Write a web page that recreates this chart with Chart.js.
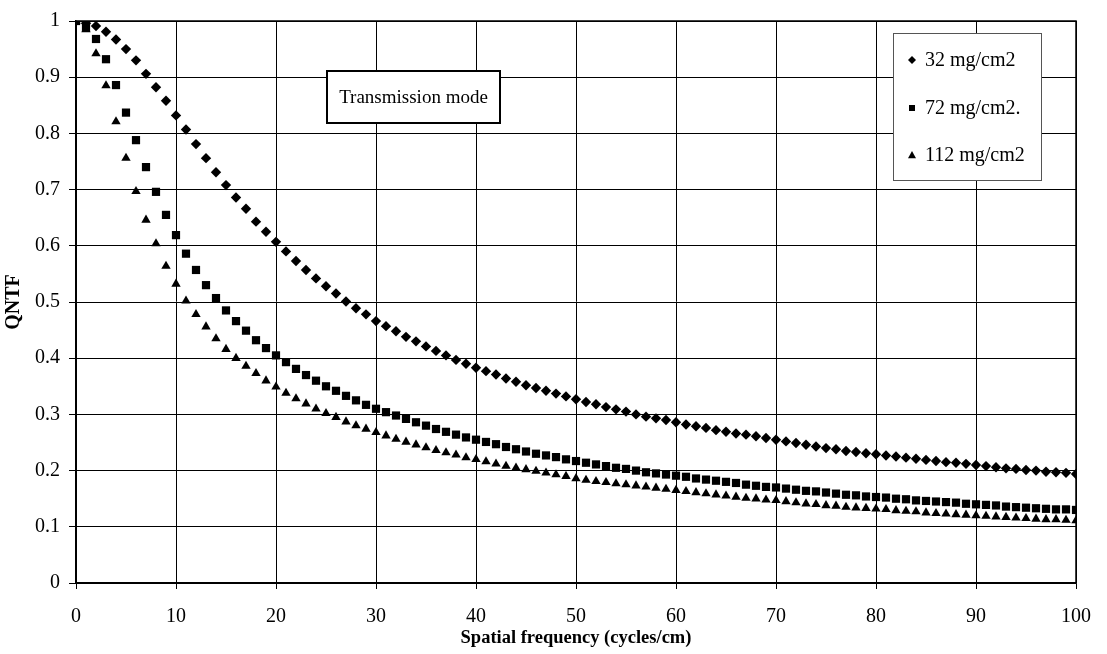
<!DOCTYPE html>
<html>
<head>
<meta charset="utf-8">
<script src="https://cdn.jsdelivr.net/npm/chart.js@4.4.1/dist/chart.umd.min.js"></script>
<style>
  html, body { margin: 0; padding: 0; background: #fff; }
  #wrap { width: 1107px; height: 654px; }
</style>
</head>
<body>
<div id="wrap"><canvas id="chart" width="1107" height="654"></canvas></div>
<script>
const seriesNames = ['32 mg/cm2', '72 mg/cm2.', '112 mg/cm2'];

// spatial frequency, cycles/cm
const freq = [
  0, 1, 2, 3, 4, 5, 6, 7, 8, 9, 10, 11, 12, 13, 14, 15, 16, 17, 18, 19, 20,
  21, 22, 23, 24, 25, 26, 27, 28, 29, 30, 31, 32, 33, 34, 35, 36, 37, 38, 39, 40,
  41, 42, 43, 44, 45, 46, 47, 48, 49, 50, 51, 52, 53, 54, 55, 56, 57, 58, 59, 60,
  61, 62, 63, 64, 65, 66, 67, 68, 69, 70, 71, 72, 73, 74, 75, 76, 77, 78, 79, 80,
  81, 82, 83, 84, 85, 86, 87, 88, 89, 90, 91, 92, 93, 94, 95, 96, 97, 98, 99, 100
];

const qntf32 = [
  1.000, 0.996, 0.991, 0.981, 0.967, 0.950, 0.930, 0.906, 0.882, 0.858, 0.832,
  0.807, 0.781, 0.756, 0.731, 0.708, 0.686, 0.666, 0.643, 0.625, 0.607,
  0.590, 0.573, 0.557, 0.542, 0.528, 0.515, 0.501, 0.489, 0.478, 0.466,
  0.457, 0.448, 0.438, 0.430, 0.421, 0.413, 0.405, 0.397, 0.390, 0.383,
  0.377, 0.371, 0.364, 0.358, 0.352, 0.347, 0.342, 0.337, 0.332, 0.327,
  0.322, 0.318, 0.313, 0.309, 0.305, 0.300, 0.296, 0.293, 0.290, 0.286,
  0.282, 0.279, 0.276, 0.272, 0.269, 0.266, 0.264, 0.261, 0.258, 0.255,
  0.252, 0.249, 0.246, 0.243, 0.240, 0.238, 0.235, 0.233, 0.231, 0.229,
  0.227, 0.225, 0.223, 0.221, 0.219, 0.217, 0.215, 0.214, 0.212, 0.210,
  0.208, 0.206, 0.204, 0.203, 0.201, 0.200, 0.198, 0.197, 0.196, 0.194
];

const qntf72 = [
  1.000, 0.988, 0.968, 0.932, 0.886, 0.837, 0.788, 0.740, 0.696, 0.655, 0.619,
  0.586, 0.557, 0.530, 0.507, 0.485, 0.466, 0.449, 0.432, 0.418, 0.405,
  0.393, 0.381, 0.370, 0.360, 0.350, 0.342, 0.333, 0.325, 0.317, 0.310,
  0.304, 0.298, 0.292, 0.286, 0.280, 0.274, 0.269, 0.264, 0.259, 0.255,
  0.251, 0.247, 0.242, 0.238, 0.234, 0.230, 0.227, 0.224, 0.220, 0.217,
  0.214, 0.211, 0.208, 0.205, 0.203, 0.200, 0.197, 0.195, 0.193, 0.191,
  0.189, 0.186, 0.184, 0.182, 0.180, 0.178, 0.175, 0.173, 0.171, 0.170,
  0.168, 0.166, 0.164, 0.163, 0.161, 0.159, 0.157, 0.156, 0.154, 0.153,
  0.152, 0.150, 0.149, 0.147, 0.146, 0.145, 0.144, 0.143, 0.141, 0.140,
  0.139, 0.138, 0.136, 0.135, 0.134, 0.133, 0.132, 0.131, 0.131, 0.130
];

const qntf112 = [
  1.000, 0.985, 0.942, 0.885, 0.821, 0.756, 0.697, 0.646, 0.604, 0.564, 0.532,
  0.502, 0.478, 0.456, 0.435, 0.416, 0.400, 0.386, 0.373, 0.360, 0.349,
  0.338, 0.328, 0.319, 0.310, 0.302, 0.295, 0.287, 0.280, 0.274, 0.268,
  0.262, 0.256, 0.251, 0.246, 0.241, 0.236, 0.232, 0.228, 0.223, 0.220,
  0.216, 0.212, 0.208, 0.205, 0.202, 0.199, 0.196, 0.193, 0.190, 0.186,
  0.183, 0.181, 0.179, 0.177, 0.175, 0.173, 0.171, 0.169, 0.167, 0.165,
  0.163, 0.161, 0.159, 0.157, 0.155, 0.153, 0.151, 0.150, 0.148, 0.147,
  0.145, 0.143, 0.141, 0.140, 0.138, 0.137, 0.135, 0.134, 0.133, 0.132,
  0.131, 0.129, 0.128, 0.127, 0.125, 0.124, 0.123, 0.122, 0.121, 0.120,
  0.119, 0.118, 0.117, 0.116, 0.115, 0.114, 0.113, 0.113, 0.112, 0.111
];

const SERIF = '"Liberation Serif", "Times New Roman", serif';

function toPoints(values) {
  return freq.map((f, i) => ({ x: f, y: values[i] }));
}

function markerPath(ctx, style, x, y, r) {
  ctx.beginPath();
  if (style === 'rectRot') {
    ctx.moveTo(x, y - r);
    ctx.lineTo(x + r, y);
    ctx.lineTo(x, y + r);
    ctx.lineTo(x - r, y);
  } else if (style === 'rect') {
    ctx.rect(x - r, y - r, 2 * r, 2 * r);
  } else {
    ctx.moveTo(x, y - r);
    ctx.lineTo(x + r, y + r * 0.8);
    ctx.lineTo(x - r, y + r * 0.8);
  }
  ctx.closePath();
  ctx.fill();
}

const decorPlugin = {
  id: 'decor',
  beforeDraw(chart) {
    const { ctx, width, height } = chart;
    ctx.save();
    ctx.fillStyle = '#fff';
    ctx.fillRect(0, 0, width, height);
    ctx.restore();
  },
  afterDraw(chart) {
    const { ctx, chartArea } = chart;
    ctx.save();

    // plot frame
    ctx.strokeStyle = '#000';
    ctx.lineWidth = 1.5;
    ctx.strokeRect(chartArea.left, chartArea.top,
      chartArea.right - chartArea.left, chartArea.bottom - chartArea.top);

    // "Transmission mode" label box
    ctx.fillStyle = '#fff';
    ctx.fillRect(327, 71, 173, 52);
    ctx.lineWidth = 2;
    ctx.strokeRect(327, 71, 173, 52);
    ctx.fillStyle = '#000';
    ctx.font = '19px ' + SERIF;
    ctx.textAlign = 'center';
    ctx.textBaseline = 'middle';
    ctx.fillText('Transmission mode', 413.5, 98);

    // legend box
    ctx.fillStyle = '#fff';
    ctx.fillRect(893, 33, 148, 147);
    ctx.strokeStyle = '#555';
    ctx.lineWidth = 1;
    ctx.strokeRect(893.5, 33.5, 148, 147);
    ctx.font = '20px ' + SERIF;
    ctx.textAlign = 'left';
    ctx.fillStyle = '#000';
    const rows = [60, 108, 155];
    chart.data.datasets.forEach((ds, i) => {
      const r = ds.pointStyle === 'rect' ? 3 : 4;
      markerPath(ctx, ds.pointStyle, 912, rows[i], r);
      ctx.fillText(ds.label, 925, rows[i] + 1);
    });

    ctx.restore();
  }
};

new Chart(document.getElementById('chart'), {
  type: 'scatter',
  data: {
    datasets: [
      {
        label: seriesNames[0],
        data: toPoints(qntf32),
        pointStyle: 'rectRot',
        pointRadius: 5.2,
        backgroundColor: '#000',
        borderWidth: 0,
      },
      {
        label: seriesNames[1],
        data: toPoints(qntf72),
        pointStyle: 'rect',
        pointRadius: 5.8,
        backgroundColor: '#000',
        borderWidth: 0,
      },
      {
        label: seriesNames[2],
        data: toPoints(qntf112),
        pointStyle: 'triangle',
        pointRadius: 5.4,
        backgroundColor: '#000',
        borderWidth: 0,
      },
    ],
  },
  plugins: [decorPlugin],
  options: {
    responsive: false,
    animation: false,
    events: [],
    layout: {
      padding: { top: 14, right: 29, left: 0, bottom: 0 },
    },
    plugins: {
      legend: { display: false },
      tooltip: { enabled: false },
    },
    scales: {
      x: {
        type: 'linear',
        min: 0,
        max: 100,
        afterFit(scale) { scale.height = 71; },
        ticks: {
          stepSize: 10,
          color: '#000',
          padding: 16,
          maxRotation: 0,
          font: { family: SERIF, size: 20 },
        },
        grid: {
          color: '#000',
          lineWidth: 1,
          tickLength: 6,
        },
        border: { color: '#000', width: 1.5 },
        title: {
          display: true,
          text: 'Spatial frequency (cycles/cm)',
          color: '#000',
          font: { family: SERIF, size: 18.5, weight: 'bold' },
          padding: { top: 0, bottom: 5 },
        },
      },
      y: {
        min: 0,
        max: 1,
        afterFit(scale) { scale.width = 76; },
        ticks: {
          stepSize: 0.1,
          color: '#000',
          padding: 9,
          font: { family: SERIF, size: 20 },
          callback(value) {
            return String(Number(Number(value).toFixed(1)));
          },
        },
        grid: {
          color: '#000',
          lineWidth: 1,
          tickLength: 7,
        },
        border: { color: '#000', width: 1.5 },
        title: {
          display: true,
          text: 'QNTF',
          color: '#000',
          font: { family: SERIF, size: 20, weight: 'bold' },
          padding: { top: 2, bottom: 0 },
        },
      },
    },
  },
});
</script>
</body>
</html>
